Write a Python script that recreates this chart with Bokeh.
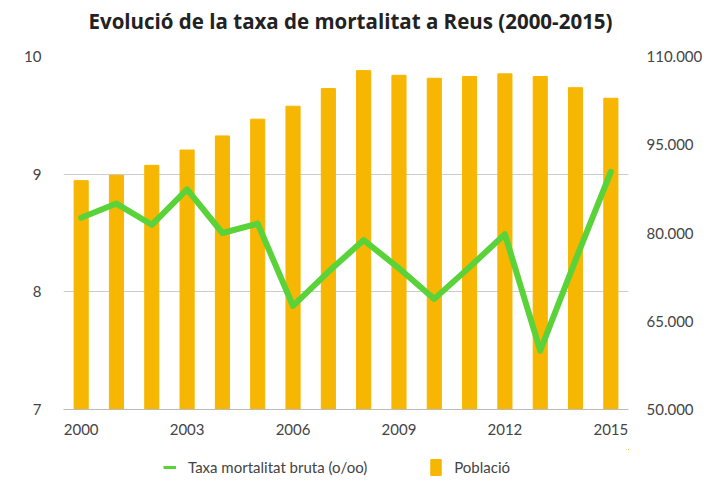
from bokeh.plotting import figure
from bokeh.layouts import column
from bokeh.models import (Range1d, LinearAxis, FixedTicker, CustomJSTickFormatter,
                          Legend, LegendItem, Label)
from bokeh.embed import file_html
from bokeh.resources import INLINE

years = list(range(2000, 2016))
poblacio = [88900, 89800, 91500, 94100, 96500, 99350, 101550, 104550,
            107600, 106800, 106300, 106600, 107050, 106600, 104700, 102900]
taxa = [8.63, 8.75, 8.57, 8.87, 8.50, 8.58, 7.88, 8.17,
        8.44, 8.20, 7.94, 8.21, 8.49, 7.50, 8.27, 9.02]
year_ticks = [2000, 2003, 2006, 2009, 2012, 2015]
left_ticks = [7, 8, 9, 10]
right_ticks = [50000, 65000, 80000, 95000, 110000]

title_text = "Evolució de la taxa de mortalitat a Reus (2000-2015)"
line_label = "Taxa mortalitat bruta (o/oo)"
bar_label = "Població"

BAR = "#F6B602"
LINE = "#5AD33A"
TXT = "#444444"
FONT = "Lato"

# ---- title strip (frame aligned with the chart frame: 63..628) ----
tf = figure(width=720, height=40, output_backend="svg", toolbar_location=None,
            x_axis_type=None, y_axis_type=None, min_border=0,
            min_border_left=63, min_border_right=92,
            x_range=Range1d(0, 1), y_range=Range1d(0, 1))
tf.outline_line_color = None
tf.grid.visible = False
tf.add_layout(Label(x=287, y=20, x_units="screen", y_units="screen",
                    text=title_text, text_font="Open Sans", text_font_style="bold",
                    text_font_size="20.5px", text_color="#222222",
                    text_align="center", text_baseline="middle"))

# ---- main chart ----
p = figure(frame_width=565, frame_height=353, output_backend="svg",
           toolbar_location=None, x_range=Range1d(1999.5, 2015.5),
           y_range=Range1d(7, 10), min_border_left=63, min_border_right=92,
           min_border_top=16, min_border_bottom=40)
p.outline_line_color = None
p.background_fill_color = "white"
p.border_fill_color = "white"

p.extra_y_ranges = {"pop": Range1d(50000, 110000)}

p.vbar(x=years, top=poblacio, bottom=50000, width=0.4, color=BAR,
       y_range_name="pop")
p.line(x=years, y=taxa, line_color=LINE, line_width=6, line_join="round",
       line_cap="round")

xa = p.xaxis[0]
xa.ticker = FixedTicker(ticks=year_ticks)
xa.axis_line_color = "#bbbbbb"
xa.major_tick_line_color = None
xa.minor_tick_line_color = None
xa.major_label_text_font = FONT
xa.major_label_text_font_size = "15px"
xa.major_label_text_color = TXT
xa.major_label_standoff = 8

ya = p.yaxis[0]
ya.ticker = FixedTicker(ticks=left_ticks)
ya.axis_line_color = None
ya.major_tick_line_color = None
ya.minor_tick_line_color = None
ya.major_label_text_font = FONT
ya.major_label_text_font_size = "15px"
ya.major_label_text_color = TXT
ya.major_label_standoff = 16

ra = LinearAxis(y_range_name="pop", ticker=FixedTicker(ticks=right_ticks))
ra.formatter = CustomJSTickFormatter(
    code="return Math.round(tick).toString().replace(/\\B(?=(\\d{3})+(?!\\d))/g, '.');")
ra.axis_line_color = None
ra.major_tick_line_color = None
ra.minor_tick_line_color = None
ra.major_label_text_font = FONT
ra.major_label_text_font_size = "15px"
ra.major_label_text_color = TXT
ra.major_label_standoff = 12
p.add_layout(ra, "right")

p.xgrid.grid_line_color = None
p.ygrid.grid_line_color = "#cccccc"
p.ygrid.ticker = FixedTicker(ticks=left_ticks)

# ---- legend strip (proxy renderers lie outside the strip's ranges) ----
lf = figure(width=720, height=36, output_backend="svg", toolbar_location=None,
            x_axis_type=None, y_axis_type=None, min_border=0,
            min_border_left=63, min_border_right=92,
            x_range=Range1d(0, 1), y_range=Range1d(0, 1))
lf.outline_line_color = None
lf.grid.visible = False
l_line = lf.line(x=years, y=taxa, line_color=LINE, line_width=3)
l_bar = lf.vbar(x=years, top=poblacio, bottom=50000, width=0.4, color=BAR)
legend = Legend(items=[LegendItem(label=line_label, renderers=[l_line]),
                       LegendItem(label=bar_label, renderers=[l_bar])],
                location=(100, 8), orientation="horizontal",
                padding=0, margin=0, spacing=62, border_line_color=None,
                background_fill_alpha=0, glyph_width=13, glyph_height=20,
                label_standoff=12, label_text_font=FONT,
                label_text_font_size="15px", label_text_color=TXT)
lf.add_layout(legend, "center")

layout = column(tf, p, lf, spacing=0)
open("out.html", "w").write(file_html(layout, INLINE))
